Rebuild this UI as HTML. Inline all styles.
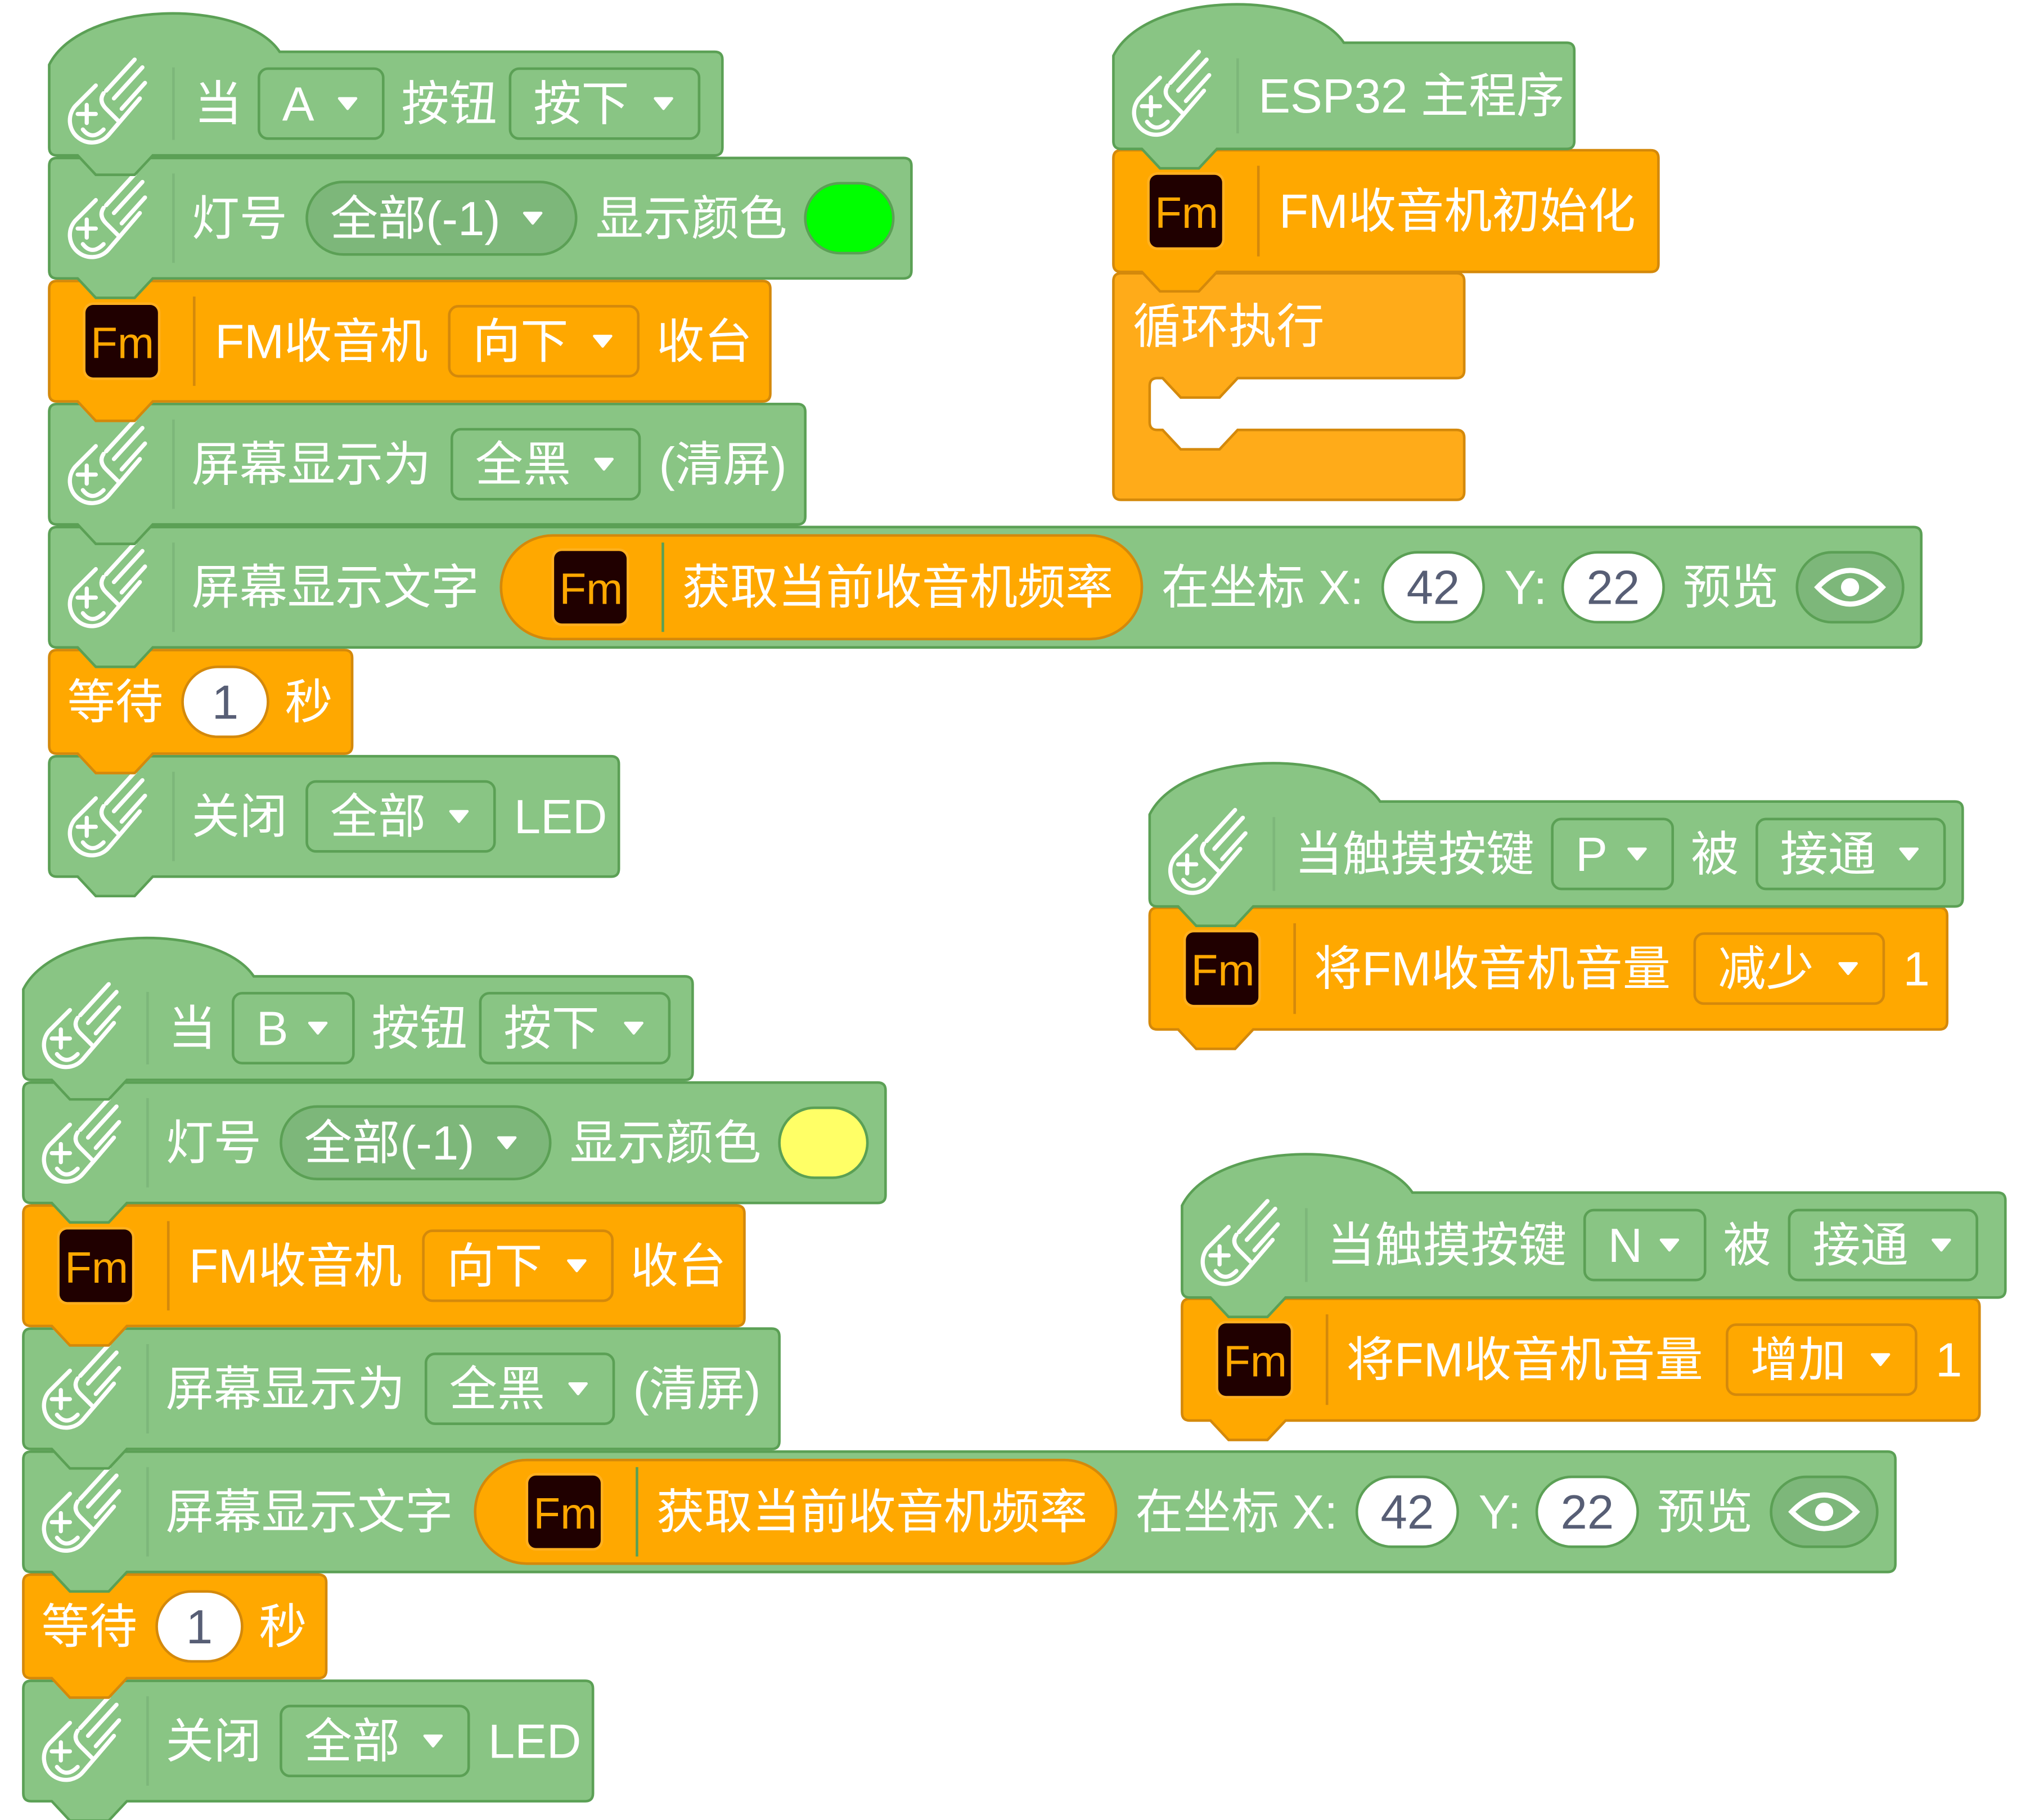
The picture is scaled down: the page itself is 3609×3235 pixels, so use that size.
<!DOCTYPE html>
<html><head><meta charset="utf-8">
<style>html,body{margin:0;padding:0;background:#fff;width:3609px;height:3235px;overflow:hidden}svg{display:block}
text{font-family:"Liberation Sans","Noto Sans CJK SC",sans-serif;fill:#fff}</style></head>
<body>
<svg id="s" width="3609" height="3235" viewBox="0 0 1568 1405.5" xmlns="http://www.w3.org/2000/svg"></svg>
<script>
const G={f:'#89C584',s:'#5BA055',d:'#7DB77A'},O={f:'#FFA800',s:'#D4890B',d:'#FFA800'},L={f:'#FFAB19',s:'#D4890B'};
let out=[];
function bpath(x,y,w,h,hat,tab){const r=6;let d;
if(hat)d=`M${x},${y+10} C${x+25},${y-40} ${x+150},${y-42} ${x+178},${y} L${x+w-r},${y} Q${x+w},${y} ${x+w},${y+r}`;
else d=`M${x},${y+r} Q${x},${y} ${x+r},${y} L${x+w-r},${y} Q${x+w},${y} ${x+w},${y+r}`;
d+=` L${x+w},${y+h-r} Q${x+w},${y+h} ${x+w-r},${y+h}`;
if(tab)d+=` L${x+80},${y+h} L${x+66},${y+h+15} L${x+36},${y+h+15} L${x+22},${y+h}`;
d+=` L${x+r},${y+h} Q${x},${y+h} ${x},${y+h-r} Z`;return d;}
function T(x,y,s,fs){return `<text x="${x}" y="${y}" font-size="${fs||37}">${s}</text>`;}
function icon(x,cy){return `<g fill="none" stroke="#fff" stroke-width="3.2" stroke-linecap="round">
<path d="M${x+22},${cy-14} L${x+6},${cy+2} A17,17 0 0 0 ${x+32},${cy+24} L${x+56},${cy-4}"/>
<path d="M${x+28},${cy-8} Q${x+24},${cy-2} ${x+30},${cy+4} L${x+40},${cy+14}"/>
<path d="M${x+30},${cy-10} L${x+52},${cy-34} M${x+36},${cy-4} L${x+58},${cy-28} M${x+42},${cy+4} L${x+60},${cy-16}"/>
<path d="M${x+8},${cy+8} h14 M${x+15},${cy+1} v14 M${x+12},${cy+20} q7,9 16,0"/></g>`;}
function fm(x,cy){return `<rect x="${x-2}" y="${cy-30}" width="60" height="60" rx="8" fill="#FFB020"/><rect x="${x}" y="${cy-28}" width="56" height="56" rx="6" fill="#200000"/><text x="${x+4}" y="${cy+13}" font-size="34" style="fill:#FFA800">Fm</text>`;}
function tri(x,cy){return `<path d="M${x},${cy-4} h13 l-6.5,8 z" fill="#fff" stroke="#fff" stroke-width="2" stroke-linejoin="round"/>`;}
function block(X,Y,b){const c=b.c,x=X,y=Y+b.y,w=b.w,h=b.h,cy=y+h/2,ty=cy+13;
let s=`<path d="${bpath(x,y,w,h,b.hat,b.tab!==false)}" fill="${c.f}" stroke="${c.s}" stroke-width="2"/>`;
for(const it of b.i){const ix=X+it.x;
switch(it.t){
case 'icon':s+=icon(x+14,cy)+`<line x1="${x+96}" y1="${y+12}" x2="${x+96}" y2="${y+h-12}" stroke="${c.d}" stroke-width="2"/>`;break;
case 'fm':s+=fm(ix,cy);break;
case 'sep':s+=`<line x1="${ix}" y1="${y+12}" x2="${ix}" y2="${y+h-12}" stroke="${c.s}" stroke-width="2"/>`;break;
case 'tx':s+=T(ix,ty,it.s,it.fs);break;
case 'dd':s+=`<rect x="${ix}" y="${cy-27}" width="${it.w}" height="54" rx="7" fill="${c.f}" stroke="${c.s}" stroke-width="2"/>`+T(ix+18,ty,it.s)+tri(ix+it.w-34,cy);break;
case 'pill':s+=`<rect x="${ix}" y="${cy-28}" width="${it.w}" height="56" rx="28" fill="${c.d}" stroke="${c.s}" stroke-width="2"/>`+T(ix+18,ty,it.s)+tri(ix+it.w-40,cy);break;
case 'wp':s+=`<rect x="${ix}" y="${cy-27}" width="${it.w}" height="54" rx="27" fill="#fff" stroke="${c.s}" stroke-width="2"/><text x="${ix+it.w/2}" y="${ty}" font-size="37" text-anchor="middle" style="fill:#575E75">${it.s}</text>`;break;
case 'col':s+=`<rect x="${ix}" y="${cy-27}" width="${it.w}" height="54" rx="27" fill="${it.s}" stroke="${c.s}" stroke-width="2"/>`;break;
case 'eye':s+=`<rect x="${ix}" y="${cy-27}" width="${it.w}" height="54" rx="27" fill="${c.d}" stroke="${c.s}" stroke-width="2"/><path d="M${ix+16},${cy} Q${ix+41},${cy-26} ${ix+66},${cy} Q${ix+41},${cy+26} ${ix+16},${cy} Z" fill="none" stroke="#fff" stroke-width="4"/><circle cx="${ix+41}" cy="${cy}" r="7" fill="#fff"/>`;break;
case 'op':s+=`<rect x="${ix}" y="${cy-40}" width="${it.w}" height="80" rx="40" fill="${O.f}" stroke="${O.s}" stroke-width="2"/>`;break;
}}
return s;}
function stack(X,Y,bs){let s='';for(let k=bs.length-1;k>=0;k--)s+=block(X,Y,bs[k]);return s;}
function main(L1,ddw,w1,col){return [
{y:40,h:80,w:w1,c:G,hat:1,i:[{t:'icon'},{t:'tx',x:112,s:'当'},{t:'dd',x:162,w:ddw,s:L1},{t:'tx',x:172+ddw+4,s:'按钮'},{t:'dd',x:260+ddw,w:146,s:'按下'}]},
{y:122,h:93,w:666,c:G,i:[{t:'icon'},{t:'tx',x:110,s:'灯号'},{t:'pill',x:199,w:208,s:'全部(-1)'},{t:'tx',x:422,s:'显示颜色'},{t:'col',x:584,w:68,s:col}]},
{y:217,h:93,w:557,c:O,i:[{t:'fm',x:28},{t:'sep',x:112},{t:'tx',x:128,s:'FM收音机'},{t:'dd',x:309,w:146,s:'向下'},{t:'tx',x:469,s:'收台'}]},
{y:312,h:93,w:584,c:G,i:[{t:'icon'},{t:'tx',x:110,s:'屏幕显示为'},{t:'dd',x:311,w:145,s:'全黑'},{t:'tx',x:471,s:'(清屏)'}]},
{y:407,h:93,w:1446,c:G,i:[{t:'icon'},{t:'tx',x:110,s:'屏幕显示文字'},{t:'op',x:349,w:495},{t:'fm',x:390},{t:'sep',x:474},{t:'tx',x:489,s:'获取当前收音机频率'},{t:'tx',x:859,s:'在坐标 X:'},{t:'wp',x:1030,w:78,s:'42'},{t:'tx',x:1124,s:'Y:'},{t:'wp',x:1169,w:78,s:'22'},{t:'tx',x:1262,s:'预览'},{t:'eye',x:1350,w:82}]},
{y:502,h:80,w:234,c:O,i:[{t:'tx',x:14,s:'等待'},{t:'wp',x:103,w:66,s:'1'},{t:'tx',x:182,s:'秒'}]},
{y:584,h:93,w:440,c:G,i:[{t:'icon'},{t:'tx',x:110,s:'关闭'},{t:'dd',x:199,w:145,s:'全部'},{t:'tx',x:359,s:'LED'}]}];}
out.push(stack(38,0,main('A',96,520,'#00FF00')));
out.push(stack(18,714,main('B',93,517,'#FFFF66')));
(function(){const x=860,y=211,w=271,r=6;
let d=`M${x},${y+r} Q${x},${y} ${x+r},${y} L${x+w-r},${y} Q${x+w},${y} ${x+w},${y+r} L${x+w},${y+75} Q${x+w},${y+81} ${x+w-r},${y+81} L${x+96},${y+81} L${x+82},${y+96} L${x+52},${y+96} L${x+38},${y+81} L${x+34},${y+81} Q${x+28},${y+81} ${x+28},${y+87} L${x+28},${y+115} Q${x+28},${y+121} ${x+34},${y+121} L${x+38},${y+121} L${x+52},${y+136} L${x+82},${y+136} L${x+96},${y+121} L${x+w-r},${y+121} Q${x+w},${y+121} ${x+w},${y+127} L${x+w},${y+169} Q${x+w},${y+175} ${x+w-r},${y+175} L${x+r},${y+175} Q${x},${y+175} ${x},${y+169} Z`;
out.push(`<path d="${d}" fill="${L.f}" stroke="${L.s}" stroke-width="2"/>`+T(875,265,'循环执行'));})();
out.push(stack(860,0,[
{y:33,h:82,w:356,c:G,hat:1,i:[{t:'icon'},{t:'tx',x:112,s:'ESP32 主程序'}]},
{y:116,h:94,w:421,c:O,i:[{t:'fm',x:28},{t:'sep',x:112},{t:'tx',x:128,s:'FM收音机初始化'}]}]));
function touch(X,Y,L1,act,w1,w2){return stack(X,Y,[
{y:619,h:81,w:w1,c:G,hat:1,i:[{t:'icon'},{t:'tx',x:112,s:'当触摸按键'},{t:'dd',x:311,w:93,s:L1},{t:'tx',x:418,s:'被'},{t:'dd',x:469,w:145,s:'接通'}]},
{y:701,h:94,w:w2,c:O,i:[{t:'fm',x:28},{t:'sep',x:112},{t:'tx',x:127,s:'将FM收音机音量'},{t:'dd',x:421,w:146,s:act},{t:'tx',x:582,s:'1'}]}]);}
out.push(touch(888,0,'P','减少',628,616));
out.push(touch(913,302,'N','增加',636,616));
document.getElementById('s').innerHTML=out.join('');
</script>
</body></html>
